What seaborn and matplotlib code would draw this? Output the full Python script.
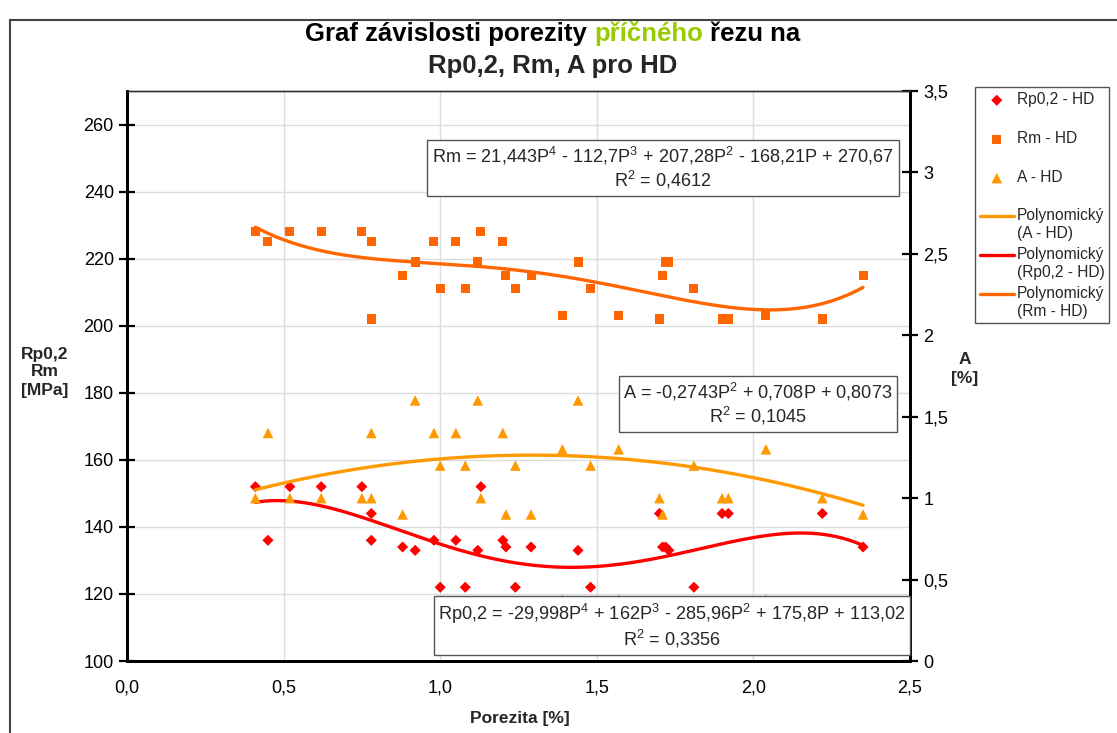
import numpy as np
import pandas as pd
import matplotlib
matplotlib.use("Agg")
import matplotlib.pyplot as plt
from matplotlib.legend_handler import HandlerLine2D
import seaborn as sns

porosity = [0.41, 0.45, 0.52, 0.62, 0.75, 0.78, 0.78, 0.88, 0.92, 0.98, 1.00,
            1.05, 1.08, 1.12, 1.13, 1.20, 1.21, 1.24, 1.29, 1.39, 1.44, 1.48,
            1.57, 1.70, 1.71, 1.72, 1.73, 1.81, 1.90, 1.92, 2.04, 2.22, 2.35]
rp02 = [152, 136, 152, 152, 152, 144, 136, 134, 133, 136, 122,
        136, 122, 133, 152, 136, 134, 122, 134, 118, 133, 122,
        118, 144, 134, 134, 133, 122, 144, 144, 118, 144, 134]
rm = [228, 225, 228, 228, 228, 225, 202, 215, 219, 225, 211,
      225, 211, 219, 228, 225, 215, 211, 215, 203, 219, 211,
      203, 202, 215, 219, 219, 211, 202, 202, 203, 202, 215]
a_pct = [1.0, 1.4, 1.0, 1.0, 1.0, 1.0, 1.4, 0.9, 1.6, 1.4, 1.2,
         1.4, 1.2, 1.6, 1.0, 1.4, 0.9, 1.2, 0.9, 1.3, 1.6, 1.2,
         1.3, 1.0, 0.9, 1.6, 1.6, 1.2, 1.0, 1.0, 1.3, 1.0, 0.9]

# Excel trendline coefficients (highest power first)
coef_rm = [21.443, -112.7, 207.28, -168.21, 270.67]
coef_rp = [-29.998, 162, -285.96, 175.8, 113.02]
coef_a = [-0.2743, 0.708, 0.8073]

x_ticks = [0.0, 0.5, 1.0, 1.5, 2.0, 2.5]
left_ticks = [100, 120, 140, 160, 180, 200, 220, 240, 260]
right_ticks = [0, 0.5, 1, 1.5, 2, 2.5, 3, 3.5]

df = pd.DataFrame({"P": porosity, "Rp": rp02, "Rm": rm, "A": a_pct})
p_fit = np.linspace(min(porosity), max(porosity), 200)
fit = pd.DataFrame({"P": p_fit,
                    "Rp": np.polyval(coef_rp, p_fit),
                    "Rm": np.polyval(coef_rm, p_fit),
                    "A": np.polyval(coef_a, p_fit)})

sns.set_style("white")
plt.rcParams["font.family"] = ["Liberation Sans", "DejaVu Sans"]
plt.rcParams["mathtext.fontset"] = "custom"
plt.rcParams["mathtext.rm"] = "Liberation Sans"
plt.rcParams["mathtext.default"] = "regular"

RED = "#ff0000"
DORANGE = "#ff6600"
ORANGE = "#ff9900"

W, H = 1117, 733
fig = plt.figure(figsize=(W / 100, H / 100), dpi=100)
ax = fig.add_axes([127 / W, 1 - 661 / H, (910 - 127) / W, (661 - 91) / H])
ax2 = ax.twinx()

# markers
sns.scatterplot(data=df, x="P", y="Rp", ax=ax, marker="D", s=32, color=RED,
                edgecolor="none", label="Rp0,2 - HD\n ", legend=False, zorder=3)
sns.scatterplot(data=df, x="P", y="Rm", ax=ax, marker="s", s=42, color=DORANGE,
                edgecolor="none", label="Rm - HD\n ", legend=False, zorder=3)
sns.scatterplot(data=df, x="P", y="A", ax=ax2, marker="^", s=58, color=ORANGE,
                edgecolor="none", label="A - HD\n ", legend=False, zorder=3)

# trend lines
sns.lineplot(data=fit, x="P", y="A", ax=ax2, color=ORANGE, lw=2.4,
             label="Polynomický\n(A - HD)", legend=False)
sns.lineplot(data=fit, x="P", y="Rp", ax=ax, color=RED, lw=2.4,
             label="Polynomický\n(Rp0,2 - HD)", legend=False)
sns.lineplot(data=fit, x="P", y="Rm", ax=ax, color=DORANGE, lw=2.4,
             label="Polynomický\n(Rm - HD)", legend=False)

ax.set_xlim(0, 2.5)
ax.set_ylim(100, 270)
ax2.set_ylim(0, 3.5)
ax.set_xticks(x_ticks)
ax.set_xticklabels([f"{v:.1f}".replace(".", ",") for v in x_ticks])
ax.set_yticks(left_ticks)
ax2.set_yticks(right_ticks)
ax2.set_yticklabels([f"{v:g}".replace(".", ",") for v in right_ticks])
ax.set_xlabel("")
ax.set_ylabel("")
ax2.set_ylabel("")

ax.grid(True, color="#dddddd", lw=1)
ax2.grid(False)
for a in (ax, ax2):
    a.tick_params(direction="inout", length=11, width=1.6, labelsize=13,
                  colors="black")
    for side in ["left", "bottom", "right"]:
        a.spines[side].set_color("black")
        a.spines[side].set_linewidth(2)
    a.spines["top"].set_color("#333333")
    a.spines["top"].set_linewidth(1)
ax.tick_params(axis="y", pad=4)
ax.tick_params(axis="x", pad=8)
ax2.tick_params(axis="y", pad=4)

# frame of the chart area
fig.patches.append(plt.Rectangle((10 / W, -0.1), 1.2, 1.1 - 20 / H,
                                 transform=fig.transFigure, fill=False,
                                 edgecolor="#444444", lw=1.5))

# title with a green word
fig.canvas.draw()
r = fig.canvas.get_renderer()
tkw = dict(fontsize=18.5, weight="bold", va="center")
parts = [("Graf závislosti porezity", "black"), ("příčného", "#99cc00"),
         ("řezu na", "black")]
texts = [fig.text(0, 1 - 34 / H, s, color=c, **tkw) for s, c in parts]
probe1 = fig.text(0, 0, "a a", **tkw)
probe2 = fig.text(0, 0, "aa", **tkw)
space = probe1.get_window_extent(r).width - probe2.get_window_extent(r).width
probe1.remove()
probe2.remove()
widths = [t.get_window_extent(r).width for t in texts]
x0 = 553 - (sum(widths) + 2 * space) / 2
for t, w in zip(texts, widths):
    t.set_x(x0 / W)
    x0 += w + space
fig.text(553 / W, 1 - 66 / H, "Rp0,2, Rm, A pro HD", ha="center", **tkw)

# axis labels
fig.text(45 / W, 1 - 372 / H, "Rp0,2\nRm\n[MPa]", ha="center", va="center",
         fontsize=12.5, weight="bold", linespacing=1.25)
fig.text(965 / W, 1 - 369 / H, "A\n[%]", ha="center", va="center",
         fontsize=12.5, weight="bold", linespacing=1.25)
fig.text(520 / W, 1 - 719 / H, "Porezita [%]", ha="center", va="center",
         fontsize=12.5, weight="bold")

# trendline equations
box = dict(boxstyle="square,pad=0.25", fc="white", ec="#555555", lw=1)
eq_kw = dict(ha="center", va="center", fontsize=13.1, bbox=box,
             multialignment="center", linespacing=1.15)
fig.text(663 / W, 1 - 168 / H,
         "Rm = 21,443P$^4$ - 112,7P$^3$ + 207,28P$^2$ - 168,21P + 270,67\nR$^2$ = 0,4612",
         **eq_kw)
fig.text(758 / W, 1 - 404 / H,
         "A = -0,2743P$^2$ + 0,708P + 0,8073\nR$^2$ = 0,1045", **eq_kw)
fig.text(672 / W, 1 - 626 / H,
         "Rp0,2 = -29,998P$^4$ + 162P$^3$ - 285,96P$^2$ + 175,8P + 113,02\nR$^2$ = 0,3356",
         **eq_kw)


# legend: handles aligned with the first line of each label
class RaisedLine(HandlerLine2D):
    def create_artists(self, legend, orig_handle, xdescent, ydescent, width,
                       height, fontsize, trans):
        return super().create_artists(legend, orig_handle, xdescent,
                                      ydescent - 1.2 * fontsize, width, height,
                                      fontsize, trans)


h1, l1 = ax.get_legend_handles_labels()
h2, l2 = ax2.get_legend_handles_labels()
hd = dict(zip(l1 + l2, h1 + h2))
order = ["Rp0,2 - HD\n ", "Rm - HD\n ", "A - HD\n ", "Polynomický\n(A - HD)",
         "Polynomický\n(Rp0,2 - HD)", "Polynomický\n(Rm - HD)"]
leg = fig.legend([hd[k] for k in order], order, loc="upper left",
                 bbox_to_anchor=(975 / W, 1 - 87 / H), fontsize=11.2,
                 frameon=True, fancybox=False, edgecolor="#555555",
                 framealpha=1, borderpad=0.3, labelspacing=0.42,
                 handlelength=2.2, handletextpad=0.2, borderaxespad=0,
                 scatteryoffsets=[1.25],
                 handler_map={matplotlib.lines.Line2D: RaisedLine()})
leg.get_frame().set_linewidth(1)

fig.savefig("out.png", dpi=100)
